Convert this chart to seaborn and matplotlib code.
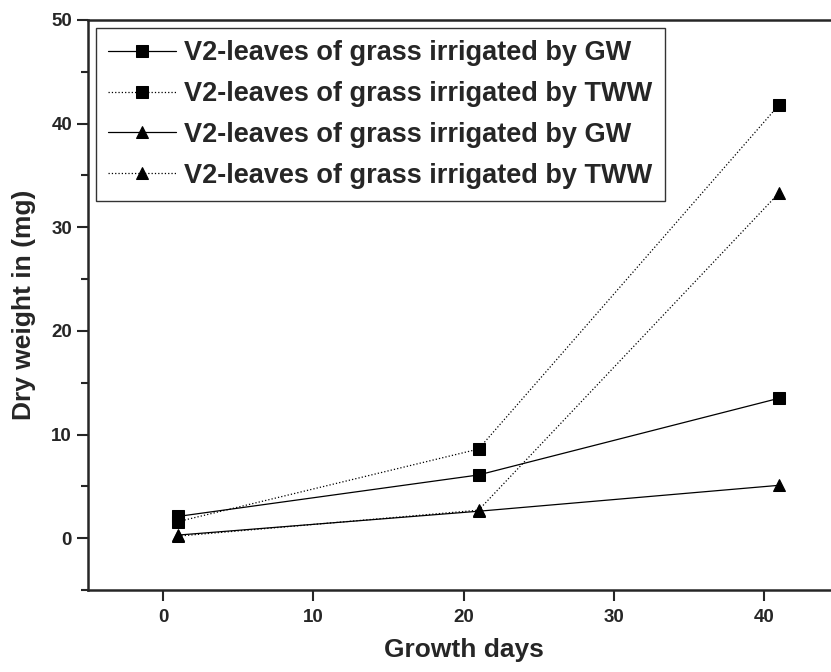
import pandas as pd
import numpy as np
import matplotlib.pyplot as plt
import seaborn as sns
from matplotlib.ticker import MultipleLocator

sns.set_style("ticks")
plt.rcParams['font.family'] = ['Liberation Sans', 'DejaVu Sans']
plt.rcParams['font.weight'] = 'bold'

days = [1, 21, 41]
sq_gw = [2.1, 6.1, 13.5]
sq_tww = [1.6, 8.6, 41.8]
tri_gw = [0.3, 2.6, 5.1]
tri_tww = [0.2, 2.7, 33.3]

labels = ["V2-leaves of grass irrigated by GW",
          "V2-leaves of grass irrigated by TWW",
          "V2-leaves of grass irrigated by GW",
          "V2-leaves of grass irrigated by TWW"]
series = [sq_gw, sq_tww, tri_gw, tri_tww]
markers = ["s", "s", "^", "^"]
styles = ["-", ":", "-", ":"]

fig = plt.figure(figsize=(8.31, 6.72), dpi=100)
ax = fig.add_axes([88/831, 82/672, (839-88)/831, (590-20)/672])

for vals, lab, mk, ls in zip(series, labels, markers, styles):
    sns.lineplot(x=days, y=vals, ax=ax, color="black", marker=mk, markersize=9,
                 markeredgecolor="black", linestyle=ls, linewidth=0.9, label=lab)

ax.set_xlim(-5, 45)
ax.set_ylim(-5, 50)
ax.xaxis.set_major_locator(MultipleLocator(10))
ax.yaxis.set_major_locator(MultipleLocator(10))
ax.yaxis.set_minor_locator(MultipleLocator(5))
ax.tick_params(axis="both", which="major", length=8, width=1.5, labelsize=13.5, direction="out")
ax.tick_params(axis="x", which="major", pad=6)
ax.tick_params(axis="y", which="minor", length=5, width=1.5, direction="out")
for lbl in ax.get_xticklabels() + ax.get_yticklabels():
    lbl.set_fontweight("bold")

for side in ["left", "bottom", "top"]:
    ax.spines[side].set_linewidth(1.8)
ax.spines["right"].set_visible(False)

ax.set_xlabel("Growth days", fontsize=19, fontweight="bold", labelpad=8)
ax.set_ylabel("Dry weight in (mg)", fontsize=19, fontweight="bold", labelpad=11)

leg = ax.legend(loc="upper left", bbox_to_anchor=(0.011, 0.986), frameon=True, fancybox=False,
                edgecolor="black", fontsize=19.5, handlelength=2.5, handletextpad=0.3,
                labelspacing=0.55, borderpad=0.45, borderaxespad=0)
leg.get_frame().set_linewidth(1.0)
for t in leg.get_texts():
    t.set_fontweight("bold")

plt.savefig("out.png", dpi=100)
